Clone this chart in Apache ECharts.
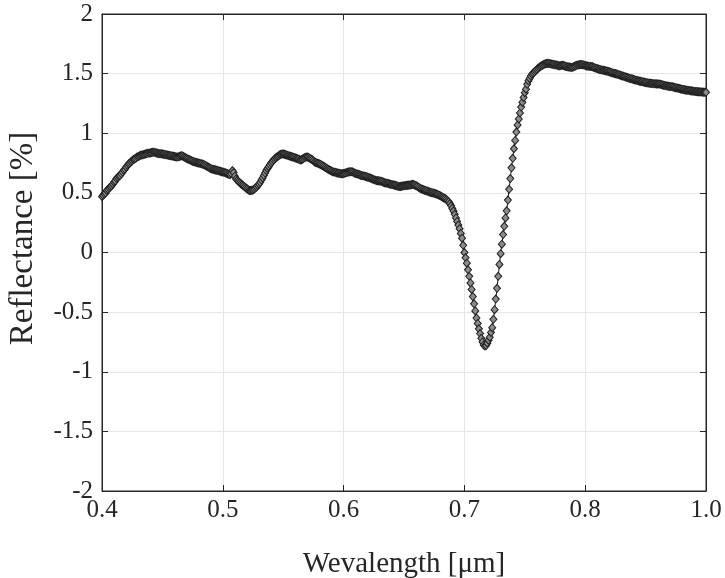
<!DOCTYPE html>
<html>
<head>
<meta charset="utf-8">
<script src="https://cdn.jsdelivr.net/npm/echarts@6/dist/echarts.min.js"></script>
<style>html,body{margin:0;padding:0;background:#fff}#c{width:725px;height:578px}</style>
</head>
<body>
<div id="c"></div>
<script>
// Wavelength sampling (µm): 0.400 ... 0.900, 1 nm step
const startNm = 400;
const stepNm = 1;
// Reflectance [%], one value per wavelength sample
const reflectance = [
0.47,0.48,0.49,0.50,0.52,0.53,0.54,0.55,0.56,0.575,
0.59,0.60,0.62,0.63,0.64,0.645,0.66,0.675,0.69,0.70,
0.715,0.73,0.743,0.75,0.76,0.77,0.78,0.785,0.79,0.80,
0.805,0.81,0.815,0.818,0.82,0.823,0.826,0.83,0.832,0.834,
0.835,0.838,0.84,0.84,0.838,0.835,0.833,0.83,0.829,0.828,
0.826,0.824,0.822,0.82,0.817,0.815,0.813,0.812,0.81,0.808,
0.805,0.802,0.80,0.802,0.805,0.81,0.812,0.808,0.80,0.795,
0.79,0.785,0.78,0.775,0.77,0.766,0.762,0.758,0.755,0.752,
0.75,0.748,0.745,0.743,0.738,0.733,0.728,0.722,0.716,0.71,
0.705,0.70,0.697,0.695,0.692,0.69,0.687,0.684,0.681,0.678,
0.675,0.672,0.668,0.665,0.661,0.657,0.653,0.662,0.687,0.67,
0.64,0.617,0.605,0.595,0.585,0.577,0.568,0.56,0.552,0.543,
0.535,0.527,0.52,0.519,0.521,0.525,0.532,0.54,0.55,0.562,
0.575,0.589,0.607,0.625,0.645,0.666,0.687,0.705,0.72,0.735,
0.75,0.763,0.775,0.785,0.795,0.803,0.81,0.817,0.822,0.826,
0.826,0.824,0.82,0.817,0.813,0.81,0.807,0.804,0.80,0.797,
0.793,0.79,0.786,0.782,0.775,0.778,0.783,0.79,0.796,0.80,
0.80,0.797,0.79,0.785,0.778,0.77,0.76,0.755,0.75,0.747,
0.743,0.738,0.732,0.726,0.72,0.713,0.706,0.70,0.693,0.688,
0.683,0.678,0.675,0.672,0.669,0.666,0.665,0.663,0.661,0.66,
0.662,0.665,0.668,0.672,0.675,0.677,0.678,0.678,0.672,0.666,
0.662,0.66,0.656,0.652,0.648,0.645,0.643,0.641,0.638,0.636,
0.632,0.628,0.624,0.62,0.616,0.612,0.607,0.603,0.602,0.601,
0.60,0.597,0.594,0.59,0.585,0.582,0.58,0.578,0.575,0.572,
0.57,0.568,0.565,0.562,0.559,0.556,0.553,0.554,0.556,0.558,
0.56,0.561,0.562,0.564,0.565,0.567,0.569,0.572,0.57,0.565,
0.56,0.555,0.548,0.541,0.535,0.531,0.527,0.523,0.52,0.516,
0.512,0.508,0.505,0.502,0.499,0.496,0.493,0.49,0.486,0.481,
0.475,0.469,0.463,0.458,0.452,0.445,0.436,0.425,0.41,0.392,
0.37,0.347,0.32,0.29,0.26,0.23,0.2,0.16,0.12,0.06,
0.0,-0.045,-0.09,-0.145,-0.2,-0.255,-0.31,-0.37,-0.43,-0.49,
-0.55,-0.595,-0.64,-0.68,-0.72,-0.75,-0.775,-0.785,-0.78,-0.76,
-0.735,-0.71,-0.67,-0.63,-0.56,-0.48,-0.39,-0.3,-0.2,-0.1,
-0.01,0.07,0.15,0.22,0.29,0.35,0.44,0.53,0.62,0.71,
0.79,0.87,0.94,1.01,1.07,1.12,1.17,1.22,1.26,1.30,
1.34,1.37,1.41,1.44,1.46,1.48,1.495,1.505,1.515,1.525,
1.535,1.545,1.553,1.56,1.567,1.573,1.578,1.582,1.585,1.586,
1.585,1.583,1.58,1.578,1.577,1.575,1.572,1.57,1.566,1.567,
1.569,1.57,1.568,1.565,1.56,1.558,1.556,1.555,1.553,1.552,
1.556,1.561,1.565,1.57,1.573,1.575,1.576,1.576,1.575,1.572,
1.568,1.565,1.563,1.561,1.56,1.559,1.558,1.553,1.549,1.545,
1.541,1.538,1.535,1.532,1.53,1.528,1.526,1.524,1.521,1.518,
1.515,1.512,1.508,1.505,1.502,1.5,1.497,1.494,1.49,1.487,
1.483,1.48,1.477,1.473,1.47,1.467,1.463,1.46,1.458,1.455,
1.451,1.448,1.445,1.442,1.44,1.437,1.435,1.433,1.43,1.428,
1.426,1.424,1.422,1.42,1.419,1.418,1.417,1.416,1.415,1.414,
1.413,1.413,1.411,1.408,1.405,1.403,1.4,1.398,1.396,1.394,
1.393,1.392,1.39,1.387,1.384,1.382,1.38,1.377,1.375,1.372,
1.37,1.367,1.365,1.363,1.361,1.36,1.358,1.357,1.355,1.354,
1.352,1.351,1.35,1.349,1.348,1.347,1.346,1.345,1.344,1.343,
1.343
];
// Tick labels as printed on the original x axis
const xTickLabels = ['0.4','0.5','0.6','0.7','0.8','1.0'];
const yTickLabels = ['-2','-1.5','-1','-0.5','0','0.5','1','1.5','2'];

const xTitle = 'Wevalength [\u03bcm]';
const yTitle = 'Reflectance [%]';

const points = reflectance.map((v, i) => [(startNm + i * stepNm) / 1000, v]);

const FONT = "'Liberation Serif','Times New Roman',serif";
const AX = '#262626';

const chart = echarts.init(document.getElementById('c'), null, {renderer: 'canvas'});
chart.setOption({
  animation: false,
  backgroundColor: '#ffffff',
  grid: {left: 102, right: 19, top: 14, bottom: 87, containLabel: false, outerBoundsMode: 'none',
         show: true, borderColor: AX, borderWidth: 1, backgroundColor: 'transparent'},
  xAxis: [{
    type: 'value', min: 0.4, max: 0.9, interval: 0.1,
    name: xTitle, nameLocation: 'middle', nameGap: 59,
    nameTextStyle: {fontFamily: FONT, fontSize: 29, color: AX},
    axisLine: {show: true, onZero: false, lineStyle: {color: AX, width: 1}},
    axisTick: {show: true, inside: true, length: 6, lineStyle: {color: AX}},
    axisLabel: {fontFamily: FONT, fontSize: 25, color: AX, margin: 7,
      formatter: (v) => xTickLabels[Math.round((v - 0.4) / 0.1)]},
    splitLine: {show: true, lineStyle: {color: '#e6e6e6', width: 1}}
  }, {
    type: 'value', position: 'top', min: 0.4, max: 0.9, interval: 0.1,
    axisLine: {show: true, onZero: false, lineStyle: {color: AX, width: 1}},
    axisTick: {show: true, inside: true, length: 6, lineStyle: {color: AX}},
    axisLabel: {show: false}, splitLine: {show: false}
  }],
  yAxis: [{
    type: 'value', min: -2, max: 2, interval: 0.5,
    name: yTitle, nameLocation: 'middle', nameGap: 62,
    nameTextStyle: {fontFamily: FONT, fontSize: 33, color: AX, padding: [0, 0, 0, 28]},
    axisLine: {show: true, onZero: false, lineStyle: {color: AX, width: 1}},
    axisTick: {show: true, inside: true, length: 6, lineStyle: {color: AX}},
    axisLabel: {fontFamily: FONT, fontSize: 25, color: AX, margin: 9,
      formatter: (v) => yTickLabels[Math.round((v + 2) / 0.5)]},
    splitLine: {show: true, lineStyle: {color: '#e6e6e6', width: 1}}
  }, {
    type: 'value', position: 'right', min: -2, max: 2, interval: 0.5,
    axisLine: {show: true, onZero: false, lineStyle: {color: AX, width: 1}},
    axisTick: {show: true, inside: true, length: 6, lineStyle: {color: AX}},
    axisLabel: {show: false}, splitLine: {show: false}
  }],
  series: [{
    type: 'line',
    data: points,
    xAxisIndex: 0, yAxisIndex: 0,
    showSymbol: true, showAllSymbol: true,
    symbol: 'diamond', symbolSize: [7, 8],
    itemStyle: {color: '#8c8c8c', borderColor: '#1e1e1e', borderWidth: 1},
    lineStyle: {color: '#1a1a1a', width: 1},
    sampling: null,
    emphasis: {disabled: true}
  }]
});
</script>
</body>
</html>
